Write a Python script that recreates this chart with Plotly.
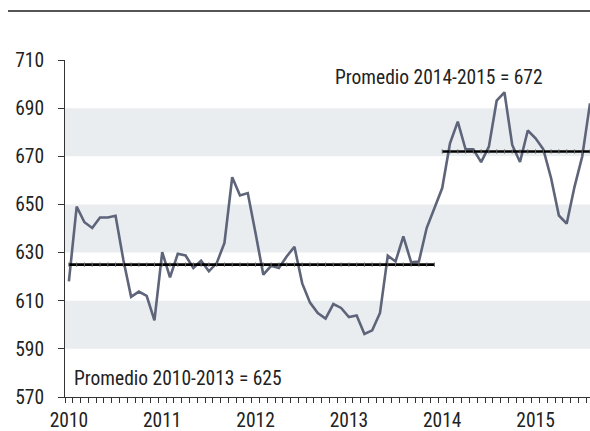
import plotly.graph_objects as go

years = ["2010", "2011", "2012", "2013", "2014", "2015"]
values = [
    618.0, 649.1, 642.6, 640.2, 644.6, 644.6, 645.3, 627.0, 611.6, 613.8, 612.0, 601.8,  # 2010
    630.2, 619.7, 629.5, 628.8, 623.6, 626.6, 622.2, 625.6, 634.0, 661.3, 653.7, 654.7,  # 2011
    638.0, 620.8, 624.5, 623.6, 628.4, 632.4, 617.2, 609.2, 604.9, 602.6, 608.6, 607.0,  # 2012
    603.2, 603.9, 596.2, 597.7, 604.9, 628.7, 626.3, 636.7, 626.0, 626.3, 640.2, 648.5,  # 2013
    656.8, 675.4, 684.4, 672.9, 672.9, 667.6, 674.0, 693.1, 696.6, 674.7, 667.6, 680.7,  # 2014
    677.5, 672.9, 660.9, 645.4, 642.0, 657.2, 669.9, 692.0,                              # 2015
]
avg_2010_2013 = 625
avg_2014_2015 = 672
label_avg1 = "Promedio 2010-2013 = 625"
label_avg2 = "Promedio 2014-2015 = 672"

n = len(values)
idx = list(range(n))
FONT = "Liberation Sans Narrow, Arial Narrow, Roboto Condensed, sans-serif"
FS = 19.5

fig = go.Figure()

# shaded bands
for lo, hi in [(590, 610), (630, 650), (670, 690)]:
    fig.add_shape(type="rect", xref="paper", yref="y", x0=0, x1=1, y0=lo, y1=hi,
                  fillcolor="#EAEDF0", line_width=0, layer="below")

fig.add_trace(go.Scatter(
    x=idx, y=values, mode="lines",
    line=dict(color="#5E6479", width=2.6), hoverinfo="skip", showlegend=False))

# average lines
mk = dict(symbol="line-ns-open", size=3, color="#666", line=dict(width=1, color="#666"))
x1 = idx[:48]
fig.add_trace(go.Scatter(x=x1, y=[avg_2010_2013] * len(x1), mode="lines+markers",
                         line=dict(color="#000000", width=2.6), marker=mk,
                         showlegend=False, hoverinfo="skip"))
x2 = idx[48:] + [n - 1 + 0.5]
fig.add_trace(go.Scatter(x=x2, y=[avg_2014_2015] * len(x2), mode="lines+markers",
                         line=dict(color="#000000", width=2.6), marker=mk,
                         showlegend=False, hoverinfo="skip"))

fig.add_annotation(x=0.35, y=577.7, xref="x", yref="y", text=label_avg1, showarrow=False,
                   xanchor="left", yanchor="middle",
                   font=dict(family=FONT, size=FS, color="#222"))
fig.add_annotation(x=47.6, y=702.7, xref="x", yref="y", text=label_avg2, showarrow=False,
                   xanchor="center", yanchor="middle",
                   font=dict(family=FONT, size=FS, color="#222"))

# top rule
fig.add_shape(type="line", xref="paper", yref="paper", x0=-57 / 525, x1=1.02,
              y0=1 + 49 / 337, y1=1 + 49 / 337,
              line=dict(color="#555555", width=2))

fig.update_layout(
    width=590, height=431,
    margin=dict(l=65, r=0, t=60, b=34, autoexpand=False),
    paper_bgcolor="white", plot_bgcolor="white",
    font=dict(family=FONT, size=FS, color="#222"),
    xaxis=dict(
        range=[-0.5, n - 1], showgrid=False, zeroline=False,
        tickmode="array", tickvals=[12 * i for i in range(len(years))], ticktext=years,
        ticks="", showline=True, linecolor="#333", linewidth=1, ticklabelstandoff=6,
        minor=dict(tickmode="array", tickvals=[i - 0.5 for i in range(n + 1)],
                   ticks="outside", ticklen=5, tickcolor="#333", tickwidth=1),
    ),
    yaxis=dict(
        range=[570, 710], tickvals=list(range(570, 711, 20)), showgrid=False, zeroline=False,
        ticks="outside", ticklen=6, tickcolor="#333", showline=True, linecolor="#333",
        linewidth=1, ticklabelstandoff=10,
    ),
)

fig.write_html(
    "out.html",
    config={"displayModeBar": False},
    post_script="document.body.style.margin='0';document.body.style.overflow='hidden';",
)
